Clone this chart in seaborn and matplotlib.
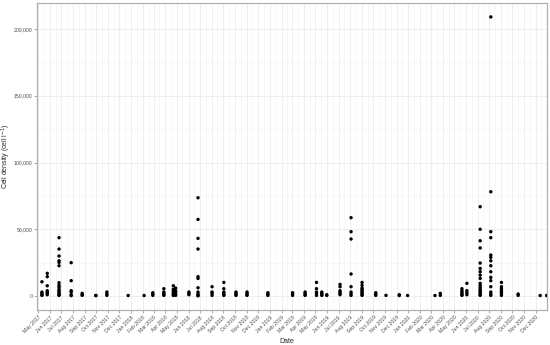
import matplotlib
matplotlib.use("Agg")
import matplotlib.pyplot as plt
import matplotlib.dates as mdates
import matplotlib.ticker as mticker
import seaborn as sns
import pandas as pd

sns.set_theme(style="white")
plt.rcParams["font.family"] = ["Liberation Sans", "DejaVu Sans"]

# sampling dates and cell densities measured on each date (cell l-1)
sample_dates = [
    "2017-05-11", "2017-05-25", "2017-06-25", "2017-07-27", "2017-08-25",
    "2017-09-30", "2017-10-29", "2017-12-24", "2018-02-04", "2018-02-27",
    "2018-03-28", "2018-04-22", "2018-04-28", "2018-06-02", "2018-06-26",
    "2018-08-02", "2018-09-02", "2018-10-04", "2018-11-02", "2018-12-27",
    "2019-03-02", "2019-04-04", "2019-05-04", "2019-05-18", "2019-05-31",
    "2019-07-05", "2019-08-03", "2019-09-01", "2019-10-07", "2019-11-03",
    "2019-12-08", "2019-12-30", "2020-03-11", "2020-03-25", "2020-05-21",
    "2020-06-03", "2020-07-08", "2020-08-05", "2020-09-02", "2020-10-16",
    "2020-12-13", "2020-12-30",
]
densities = [
    [10700, 3000, 2000, 1000, 500],
    [17000, 14500, 7700, 4000, 3000, 2000, 1000],
    [43700, 35200, 30000, 26400, 25200, 22700, 10000, 8000, 6700, 5000, 4000, 3000, 2000, 1000, 500],
    [25000, 11500, 4000, 3000, 1000, 300],
    [2000, 1000, 500],
    [500, 300],
    [3000, 1500, 500],
    [400],
    [400],
    [2500, 1500, 500],
    [5500, 3000, 2000, 1000, 500],
    [7700, 5000, 3500, 2000, 1000, 500],
    [6000, 4000, 3000, 1500, 500],
    [3000, 2000, 1000],
    [73600, 57400, 43200, 35200, 14500, 13200, 6200, 3000, 1500, 500, 200],
    [7000, 3000, 2000, 500],
    [10200, 5500, 3000, 2000, 1000, 500],
    [3000, 2000, 1000, 500],
    [3000, 2000, 1000, 500],
    [2500, 1500, 500],
    [2500, 1500, 500],
    [3000, 2000, 1000, 500],
    [10200, 5500, 3000, 2000, 500],
    [3000, 2000, 1000, 500],
    [1000, 500],
    [8700, 7000, 4000, 3000, 2000, 1000],
    [58700, 48200, 42700, 16500, 7000, 3000, 1500, 500],
    [10200, 8000, 6000, 5000, 4000, 3000, 2000, 1000, 500],
    [2500, 1500, 500],
    [500],
    [1000, 400],
    [400],
    [400],
    [2000, 500],
    [5500, 4000, 3000, 2000, 1000, 500],
    [9500, 4000, 2500, 1000],
    [66900, 50000, 41400, 36000, 24700, 20700, 18200, 15700, 13200, 9500, 8000, 6500, 5000, 4000, 3000, 2000, 1000, 500],
    [209000, 78100, 48200, 43700, 30700, 29000, 26400, 22700, 18200, 14000, 11500, 7000, 3000, 1500, 500],
    [10200, 7000, 5500, 4000, 3000, 2000, 500],
    [1500, 500],
    [400],
    [400],
]

rows = [(pd.Timestamp(d), v) for d, vals in zip(sample_dates, densities) for v in vals]
df = pd.DataFrame(rows, columns=["Date", "Density"])

fig = plt.figure(figsize=(5.5, 3.45), dpi=100)
ax = fig.add_axes([37 / 550, 35 / 345, 510 / 550, 307 / 345])

sns.scatterplot(data=df, x="Date", y="Density", ax=ax, color="black",
                s=6, edgecolor="none", linewidth=0, zorder=3)

ax.set_xlim(pd.Timestamp("2017-04-28"), pd.Timestamp("2020-12-31"))
ax.set_ylim(-10450, 219450)

ax.xaxis.set_major_locator(mdates.MonthLocator())
ax.xaxis.set_minor_locator(mdates.MonthLocator(bymonthday=16))
ax.xaxis.set_major_formatter(mdates.DateFormatter("%b %Y"))
ax.yaxis.set_major_locator(mticker.MultipleLocator(50000))
ax.yaxis.set_minor_locator(mticker.MultipleLocator(25000))
ax.yaxis.set_major_formatter(mticker.StrMethodFormatter("{x:,.0f}"))

ax.grid(which="major", color="#ebebeb", linewidth=0.6, zorder=0)
ax.grid(which="minor", color="#f3f3f3", linewidth=0.4, zorder=0)
ax.set_axisbelow(True)

for sp in ax.spines.values():
    sp.set_color("#b0b0b0")
    sp.set_linewidth(0.9)

ax.tick_params(axis="both", which="major", length=2, width=0.5, color="#888888",
               labelsize=3.7, labelcolor="#4d4d4d", pad=1.5, bottom=True, left=True)
ax.tick_params(axis="both", which="minor", length=0)
plt.setp(ax.get_xticklabels(), rotation=45, ha="right", rotation_mode="anchor")

ax.set_xlabel("Date", fontsize=5)
ax.set_ylabel("Cell density (cell l$^{-1}$)", fontsize=5)
ax.xaxis.set_label_coords(0.49, -0.09)
ax.yaxis.set_label_coords(-0.048, 0.5)

fig.savefig("out.png", dpi=100)
